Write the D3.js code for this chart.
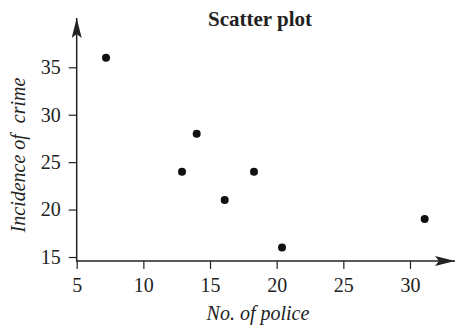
<!DOCTYPE html>
<html><head><meta charset="utf-8">
<script src="https://cdn.jsdelivr.net/npm/d3@7"></script>
<style>html,body{margin:0;padding:0;background:#fff;}svg{display:block;}</style>
</head><body>
<script>
const police = [7.2, 12.9, 14, 16.1, 18.3, 20.4, 31.1];
const crime = [36, 24, 28, 21, 24, 16, 19];
const xTicks = [5, 10, 15, 20, 25, 30];
const yTicks = [15, 20, 25, 30, 35];
const title = "Scatter plot";
const xLabel = "No. of police";
const yLabelParts = ["Incidence of", "crime"];

const W = 455, H = 326;
const svg = d3.select("body").append("svg").attr("width", W).attr("height", H);
const x = d3.scaleLinear().domain([5, 30]).range([76.7, 410]);
const y = d3.scaleLinear().domain([15, 35]).range([257, 67.3]);
const axisY0 = 261, axisX0 = x(5);
const ink = "#222";
const font = "'Liberation Serif','Times New Roman',serif";

svg.append("defs").append("marker")
  .attr("id", "arr").attr("viewBox", "0 0 20 10").attr("refX", 20).attr("refY", 5)
  .attr("markerWidth", 20).attr("markerHeight", 10).attr("markerUnits", "userSpaceOnUse")
  .attr("orient", "auto")
  .append("path").attr("d", "M0,0 L20,5 L0,10 L4,5 Z").attr("fill", ink);

// x axis
const gx = svg.append("g").attr("transform", `translate(0,${axisY0})`)
  .call(d3.axisBottom(x).tickValues(xTicks).tickSize(8).tickPadding(9).tickSizeOuter(0));
gx.select(".domain").remove();
gx.append("line").attr("x1", axisX0 - 0.7).attr("x2", 455).attr("y1", 0).attr("y2", 0)
  .attr("stroke", ink).attr("stroke-width", 1.5).attr("marker-end", "url(#arr)");

// y axis
const gy = svg.append("g").attr("transform", `translate(${axisX0},0)`)
  .call(d3.axisLeft(y).tickValues(yTicks).tickSize(8).tickPadding(8).tickSizeOuter(0));
gy.select(".domain").remove();
gy.append("line").attr("x1", 0).attr("x2", 0).attr("y1", axisY0 + 0.7).attr("y2", 18)
  .attr("stroke", ink).attr("stroke-width", 1.5).attr("marker-end", "url(#arr)");

svg.selectAll(".tick line").attr("stroke", ink).attr("stroke-width", 1.2);
svg.selectAll(".tick text").attr("fill", ink).style("font-family", font).style("font-size", "20px");

// points
svg.append("g").selectAll("circle").data(police).join("circle")
  .attr("cx", (d) => x(d)).attr("cy", (d, i) => y(crime[i])).attr("r", 4).attr("fill", "#111");

// title
svg.append("text").attr("x", 260).attr("y", 26).attr("text-anchor", "middle")
  .style("font-family", font).style("font-weight", "bold").style("font-size", "21px")
  .attr("fill", ink).text(title);

// x label
svg.append("text").attr("x", 258).attr("y", 320).attr("text-anchor", "middle")
  .style("font-family", font).style("font-style", "italic").style("font-size", "20px")
  .attr("fill", ink).text(xLabel);

// y label
const yl = svg.append("text").attr("transform", "translate(25,155) rotate(-90)").attr("text-anchor", "middle")
  .style("font-family", font).style("font-style", "italic").style("font-size", "20px")
  .attr("fill", ink);
yl.append("tspan").text(yLabelParts[0]);
yl.append("tspan").attr("dx", 6).text(" " + yLabelParts[1]);
</script>
</body></html>
